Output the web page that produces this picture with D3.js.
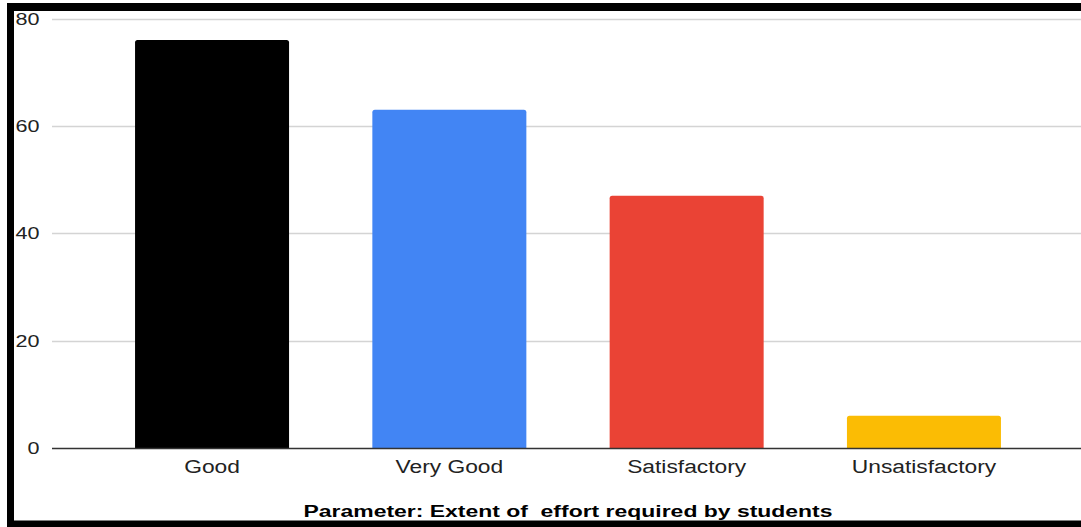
<!DOCTYPE html>
<html>
<head>
<meta charset="utf-8">
<script src="https://cdn.jsdelivr.net/npm/d3@7"></script>
<style>
  html, body { margin: 0; padding: 0; background: #fff; }
  svg { display: block; font-family: "Liberation Sans", Arial, sans-serif; }
</style>
</head>
<body>
<svg id="chart" width="1081" height="527"></svg>
<script>
const categories = ["Good", "Very Good", "Satisfactory", "Unsatisfactory"];
const values = [76, 63, 47, 6];
const barColors = ["#000000", "#4285F4", "#EA4335", "#FBBC04"];
const yTicks = [0, 20, 40, 60, 80];
const chartTitle = "Parameter: Extent of  effort required by students";

const W = 1081, H = 527;
const svg = d3.select("#chart");

// background
svg.append("rect").attr("width", W).attr("height", H).attr("fill", "#fff");

const x = d3.scaleBand()
  .domain(categories)
  .range([93.4, 1042.6])
  .paddingInner(0.351)
  .paddingOuter(0.1755);

const y = d3.scaleLinear().domain([0, 80]).range([448, 18.5]);

const gridX0 = 52, gridX1 = W;

// gridlines
svg.append("g").selectAll("line")
  .data(yTicks.filter(d => d !== 0))
  .join("line")
  .attr("x1", gridX0).attr("x2", gridX1)
  .attr("y1", d => Math.round(y(d)) + 0.5)
  .attr("y2", d => Math.round(y(d)) + 0.5)
  .attr("stroke", "#d4d4d4")
  .attr("stroke-width", 1.3);

// y tick labels
svg.append("g").selectAll("text")
  .data(yTicks)
  .join("text")
  .attr("transform", d => `translate(39.5,${y(d)}) scale(1.27,1)`)
  .attr("text-anchor", "end")
  .attr("dy", "0.36em")
  .attr("font-size", 17)
  .attr("fill", "#222")
  .text(d => d);

// bars with rounded top corners
const r = 2.5;
function barPath(x0, w, yTop, yBase) {
  return `M${x0},${yBase}V${yTop + r}Q${x0},${yTop} ${x0 + r},${yTop}` +
         `H${x0 + w - r}Q${x0 + w},${yTop} ${x0 + w},${yTop + r}V${yBase}Z`;
}
svg.append("g").selectAll("path")
  .data(categories.map((c, i) => ({ c, v: values[i], color: barColors[i] })))
  .join("path")
  .attr("d", d => barPath(x(d.c), x.bandwidth(), y(d.v), y(0)))
  .attr("fill", d => d.color);

// baseline
svg.append("line")
  .attr("x1", gridX0).attr("x2", gridX1)
  .attr("y1", y(0) + 0.5).attr("y2", y(0) + 0.5)
  .attr("stroke", "#333").attr("stroke-width", 1.3);

// category labels
svg.append("g").selectAll("text")
  .data(categories)
  .join("text")
  .attr("transform", d => `translate(${x(d) + x.bandwidth() / 2},472.5) scale(1.2,1)`)
  .attr("text-anchor", "middle")
  .attr("font-size", 19)
  .attr("fill", "#222")
  .text(d => d);

// title
svg.append("text")
  .attr("transform", `translate(568,517.3) scale(1.35,1)`)
  .attr("text-anchor", "middle")
  .attr("font-size", 17)
  .attr("font-weight", "bold")
  .attr("fill", "#000")
  .style("white-space", "pre")
  .text(chartTitle);

// black frame (left, top, bottom)
svg.append("rect").attr("x", 7).attr("y", 3).attr("width", 7).attr("height", H - 3).attr("fill", "#000");
svg.append("rect").attr("x", 7).attr("y", 3).attr("width", W - 7).attr("height", 8).attr("fill", "#000");
svg.append("rect").attr("x", 7).attr("y", 520.5).attr("width", W - 7).attr("height", H - 520.5).attr("fill", "#000");
</script>
</body>
</html>
